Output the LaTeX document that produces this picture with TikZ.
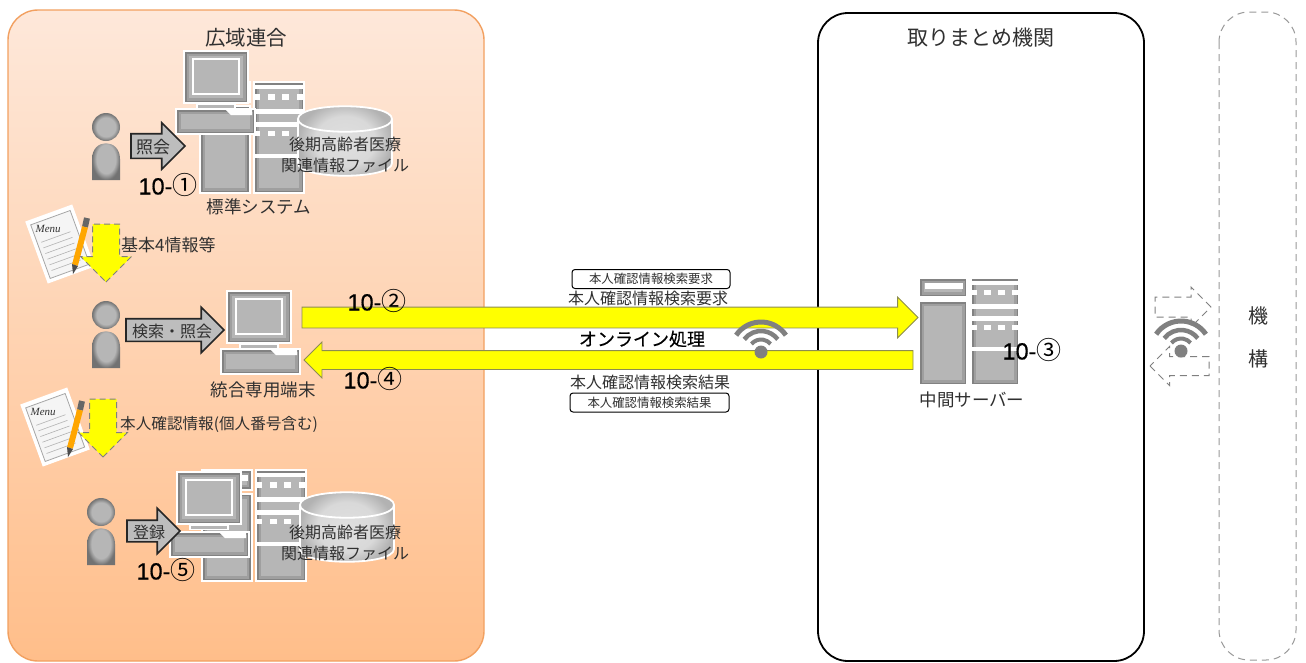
\documentclass[tikz,border=0pt]{standalone}
\usepackage{fontspec}
\setmainfont{Noto Sans CJK JP}
\newfontfamily\numf[FakeBold=0.4]{Liberation Sans}
\newfontfamily\cjkm[FakeBold=0.5]{Noto Sans CJK JP}
\newfontfamily\menuf{Liberation Serif}
\usetikzlibrary{shapes.arrows,shadings}
\definecolor{icong}{HTML}{B6B6B6}
\definecolor{icond}{HTML}{727272}
\definecolor{txt}{HTML}{303030}
\definecolor{yel}{HTML}{FFFF00}
\definecolor{yelb}{HTML}{8C8C50}
\definecolor{regtop}{HTML}{FEE8DA}
\definecolor{regmid}{HTML}{FFD4B4}
\definecolor{regbot}{HTML}{FFBE8A}
\definecolor{regline}{HTML}{F2A060}
\pgfdeclareradialshading{iconr}{\pgfpoint{0bp}{0bp}}{color(0bp)=(icong); color(17bp)=(icong); color(25bp)=(icond); color(100bp)=(icond)}
\pgfdeclareradialshading{dbr}{\pgfpoint{0bp}{0bp}}{color(0bp)=(gray!25); color(16bp)=(gray!30); color(25bp)=(gray!60); color(100bp)=(gray!60)}
\newcommand{\shaft}[1]{\rule{0pt}{#1pt}}
\newcommand{\vshaft}[1]{\rule{#1pt}{0pt}}
\newcommand{\tagnum}[1]{10-{\rmfamily\fontsize{25}{25}\selectfont #1}}
\tikzset{
  icon/.style={draw=white,line width=1.8pt,fill=icong,path picture={
    \draw[black,opacity=.12,line width=10pt] (path picture bounding box.south west) rectangle (path picture bounding box.north east);
    \draw[black,opacity=.18,line width=5pt] (path picture bounding box.south west) rectangle (path picture bounding box.north east);
  }},
  iconp/.style={shade,shading=iconr,draw=none},
  lab/.style={text=txt,inner sep=0pt,font=\fontsize{#1}{#1}\selectfont},
  num/.style={text=black,inner sep=0pt,font=\fontsize{23.5}{23.5}\selectfont\numf},
  blockarrow/.style={single arrow,inner sep=0pt,outer sep=0pt,anchor=tail},
  yarrow/.style={blockarrow,draw=yelb,line width=.8pt,fill=yel},
  garrow/.style={blockarrow,draw=black!85,line width=1.6pt,fill=icong!90},
  darrow/.style={blockarrow,draw=gray,line width=1pt,dash pattern=on 6pt off 4pt,fill=yel},
  wwarrow/.style={blockarrow,draw=gray,line width=1pt,dash pattern=on 7pt off 5pt},
  smallbox/.style={draw=black,line width=1pt,rounded corners=3pt,inner sep=0pt,minimum height=19pt,fill=white,text=txt,font=\fontsize{12.4}{12.4}\selectfont},
  region/.style={rounded corners=30pt},
  pics/person/.style={code={
    \path[iconp] (0,0) circle[radius=14pt];
    \path[iconp] (-14,53) -- (-14,32) .. controls (-14,11) and (14,11) .. (14,32) -- (14,53) -- cycle;
  }},
  pics/monitor/.style={code={
    \path[icon] (0,0) rectangle (64,52);
    \draw[white,line width=2.4pt] (9,8) rectangle (55,43);
    \fill[white] (12,52) rectangle (52,58);
    \fill[icong] (14,54) rectangle (50,57);
  }},
  pics/keyboard/.style={code={
    \path[icon] (0,0) rectangle (79,25);
    \fill[white] (50,1) -- (76,1) -- (76,6) -- (55,6) -- cycle;
  }},
  pics/tower/.style={code={
    \path[icon] (0,0) rectangle (48,19);
    \fill[white] (6,5) rectangle (44,11);
    \path[icon] (0,23) rectangle (48,107);
    \path[icon] (52,0) rectangle (100,107);
    \fill[white] (52,3) rectangle (100,7);
    \fill[white] (52,12) rectangle (100,17);
    \foreach \q in {58,72,86}{\fill[icong] (\q,12) rectangle ++(7,5);}
    \fill[white] (52,26) rectangle (100,31);
    \fill[white] (52,38) rectangle (100,43);
    \fill[white] (52,47) rectangle (100,52);
    \foreach \q in {58,72,86}{\fill[icong] (\q,47) rectangle ++(7,5);}
    \fill[white] (52,69) rectangle (100,73);
  }},
  pics/database/.style={code={
    \path[draw=white,line width=1.8pt,shade,shading=dbr] (0,13) .. controls (0,-4) and (94,-4) .. (94,13) -- (94,57) .. controls (94,74) and (0,74) .. (0,57) -- cycle;
    \draw[white,line width=1.8pt] (0,13) .. controls (0,30) and (94,30) .. (94,13);
  }},
  pics/wifi/.style={code={
    \fill[icond!90] (0,0) circle[radius=6.5pt];
    \draw[icond!90,line width=5pt] (146:30pt) arc[start angle=146,end angle=34,radius=30pt];
    \draw[icond!90,line width=4.5pt] (143:21pt) arc[start angle=143,end angle=37,radius=21pt];
    \draw[icond!90,line width=4pt] (140:12.5pt) arc[start angle=140,end angle=40,radius=12.5pt];
  }},
  pics/menupaper/.style={code={
    \begin{scope}[rotate=20]
      \fill[white] (-25,-33) rectangle (25,33);
      \draw[gray!70,fill=gray!8,line width=.8pt] (-21,-28) rectangle (21,29);
      \node[inner sep=0pt,text=black!80,font=\fontsize{11}{11}\selectfont\menuf\itshape] at (-6,-18) {Menu};
      \foreach \q in {-8,-2,4,10,16,22}{\draw[gray!60,line width=.6pt] (-17,\q) -- (14,\q);}
    \end{scope}
    \draw[black!60,line width=6pt] (27,-26) -- (25,-17);
    \draw[orange!70!yellow,line width=6pt] (25,-17) -- (15,21);
    \fill[black!70] (12,20) -- (18,22) -- (13,30) -- cycle;
  }},
}
\begin{document}
\begin{tikzpicture}[x=1pt,y=-1pt]
\useasboundingbox (0,0) rectangle (1306,662);
\fill[white] (0,0) rectangle (1306,662);
% regions
\shade[region,top color=regtop,middle color=regmid,bottom color=regbot] (8,10) rectangle (484,661);
\draw[region,draw=regline,line width=1.4pt] (8,10) rectangle (484,661);
\draw[region,draw=black,line width=1.8pt] (818,13) rectangle (1144,661);
\draw[region,draw=gray!80,line width=1pt,dash pattern=on 7pt off 5pt] (1219,12) rectangle (1296,660);
% icons top
\pic at (106,127) {person};
\pic at (200,82) [scale=1.04] {tower};
\pic at (184,51) {monitor};
\pic at (176,109) {keyboard};
\pic at (298,106) {database};
% middle
\pic at (106,315) {person};
\pic at (227,291) {monitor};
\pic at (221,349) {keyboard};
% bottom
\pic at (101,512) {person};
\pic at (202,470) [scale=1.04] {tower};
\pic at (177,472) {monitor};
\pic at (170,532) {keyboard};
\pic at (300,492) {database};
% server
\pic at (919,278) {tower};
% papers
\pic at (60,244) {menupaper};
\pic at (55,427) {menupaper};
% block arrows
\node[garrow,minimum height=54pt,single arrow head extend=11pt] (a1) at (131,146) {\shaft{23}};
\node[garrow,minimum height=98pt,single arrow head extend=11.5pt] (a2) at (126,330) {\shaft{21}};
\node[garrow,minimum height=53pt,single arrow head extend=12pt] (a3) at (127,531) {\shaft{20}};
\node[darrow,shape border rotate=270,minimum height=58pt,single arrow head extend=12pt] (d1) at (106,224) {\vshaft{26}};
\node[darrow,shape border rotate=270,minimum height=58pt,single arrow head extend=11pt] (d2) at (103,399) {\vshaft{26}};
\node[yarrow,minimum height=616pt,single arrow head extend=10pt] (req) at (302,317.5) {\shaft{20}};
\node[yarrow,shape border rotate=180,minimum height=609pt,single arrow head extend=8.5pt] (res) at (913,360) {\shaft{18}};
% wifi
\pic at (761,352) {wifi};
\pic at (1181,351) {wifi};
\node[wwarrow,minimum height=56pt,single arrow head extend=10pt] (w1) at (1155,307) {\shaft{19}};
\node[wwarrow,shape border rotate=180,minimum height=59pt,single arrow head extend=10pt] (w2) at (1209,366) {\shaft{18}};
% labels
\node[lab=20.5] (t1) at (246,38) {広域連合};
\node[lab=17] (t2) at (153,147) {照会};
\node[lab=16] (t3) at (345,144) {後期高齢者医療};
\node[lab=16] (t4) at (345,165) {関連情報ファイル};
\node[lab=17.5] (t5) at (259,207) {標準システム};
\node[lab=17,anchor=west] (t6) at (121,245) {基本4情報等};
\node[lab=16] (t7) at (172,331) {検索・照会};
\node[lab=17.5] (t8) at (263,390) {統合専用端末};
\node[lab=15.6,anchor=west] (t9) at (120,424) {本人確認情報(個人番号含む)};
\node[lab=16] (t10) at (149,532) {登録};
\node[lab=16] (t11) at (345,532) {後期高齢者医療};
\node[lab=16] (t12) at (345,553) {関連情報ファイル};
\node[num] (n1) at (168,185) {\tagnum{①}};
\node[num] (n2) at (377,301) {\tagnum{②}};
\node[num] (n4) at (373,379) {\tagnum{④}};
\node[num] (n3) at (1032,350) {\tagnum{③}};
\node[num] (n5) at (166,570) {\tagnum{⑤}};
\node[smallbox,minimum width=158pt] (b1) at (651,279) {本人確認情報検索要求};
\node[lab=16] (t13) at (648,298) {本人確認情報検索要求};
\node[lab=18,text=black] (t14) at (642,339) {\cjkm オンライン処理};
\node[lab=16] (t15) at (650,382) {本人確認情報検索結果};
\node[smallbox,minimum width=159pt] (b2) at (649.5,402.5) {本人確認情報検索結果};
\node[lab=17.5] (t16) at (972,400) {中間サーバー};
\node[lab=21] (t17) at (981,38) {取りまとめ機関};
\node[lab=20] (t18) at (1258,316) {機};
\node[lab=20] (t19) at (1258,359) {構};
\end{tikzpicture}
\end{document}
